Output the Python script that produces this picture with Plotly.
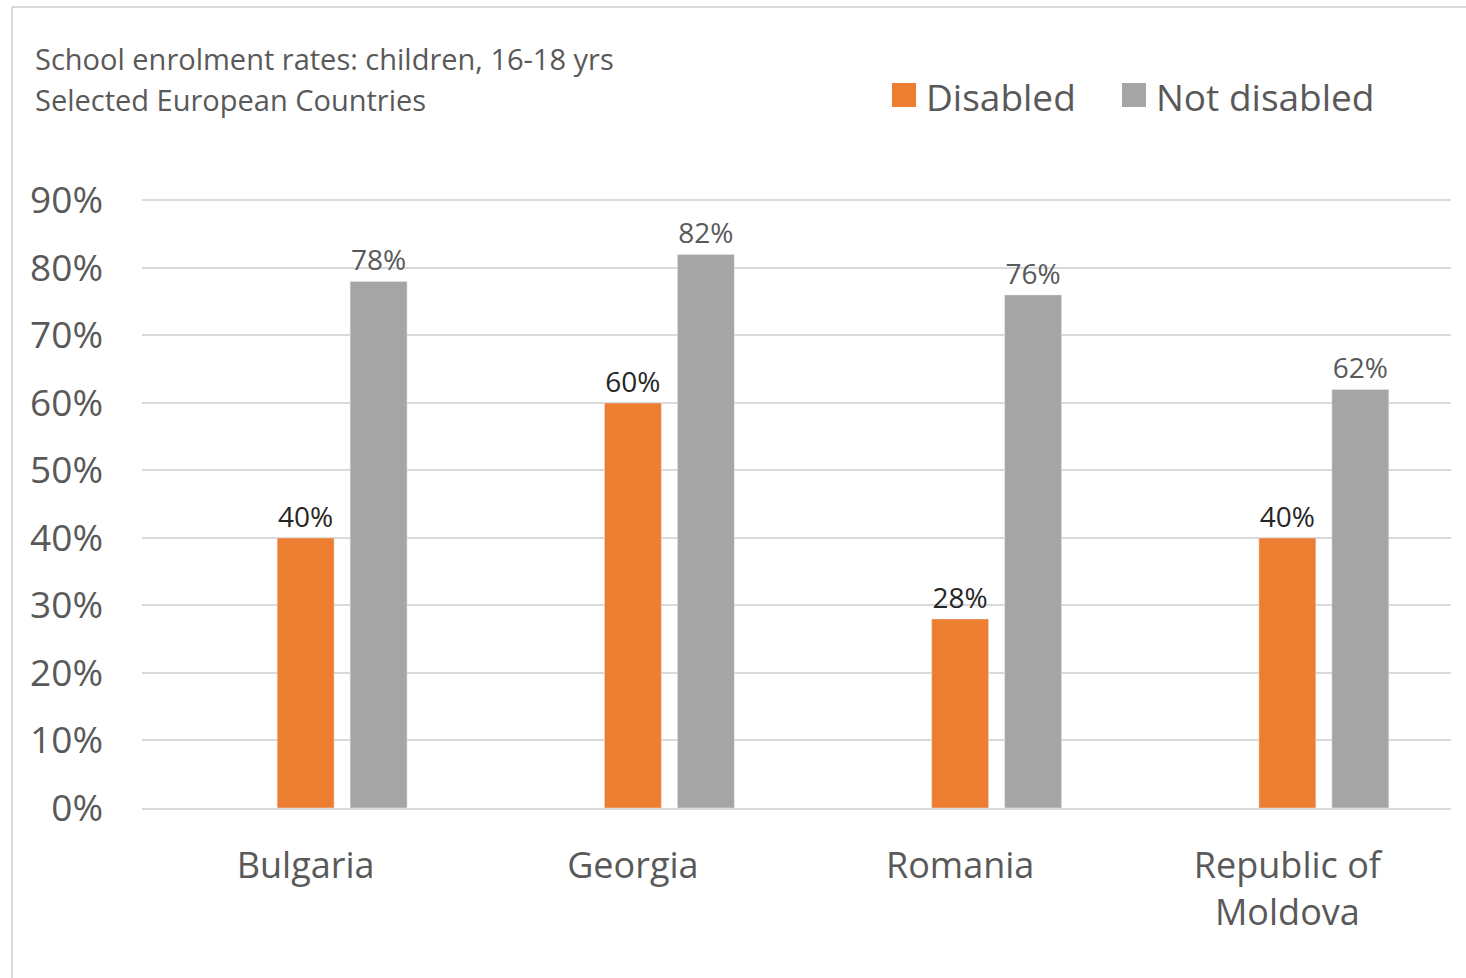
import plotly.graph_objects as go

countries = ["Bulgaria", "Georgia", "Romania", "Republic of<br>Moldova"]
disabled = [40, 60, 28, 40]
not_disabled = [78, 82, 76, 62]
tick_vals = [0, 10, 20, 30, 40, 50, 60, 70, 80, 90]
tick_text = [f"{v}%" for v in tick_vals]
series_names = ["Disabled", "Not disabled"]
series_colors = ["#ED7D31", "#A5A5A5"]

FONT = "Open Sans"
W, H = 1466, 978
L, R, T, B = 142, 15, 197, 170
pw, ph = W - L - R, H - T - B

fig = go.Figure()
fig.add_trace(go.Bar(
    name=series_names[0], x=countries, y=disabled,
    marker=dict(color=series_colors[0]),
    width=0.174, offset=-0.087,
    text=[f"{v}%" for v in disabled], textposition="outside",
    textfont=dict(family=FONT, size=28, color="#262626"),
    cliponaxis=False, showlegend=False,
))
fig.add_trace(go.Bar(
    name=series_names[1], x=countries, y=not_disabled,
    marker=dict(color=series_colors[1]),
    width=0.174, offset=0.136,
    text=[f"{v}%" for v in not_disabled], textposition="outside",
    textfont=dict(family=FONT, size=28, color="#595959"),
    cliponaxis=False, showlegend=False,
))

def px_x(x):
    return (x - L) / pw

def px_y(y):
    return (H - B - y) / ph

annotations = [
    dict(text="School enrolment rates: children, 16-18 yrs", xref="paper", yref="paper",
         x=px_x(33), y=px_y(59), xanchor="left", yanchor="middle", showarrow=False,
         font=dict(family=FONT, size=29, color="#595959")),
    dict(text="Selected European Countries", xref="paper", yref="paper",
         x=px_x(33), y=px_y(99), xanchor="left", yanchor="middle", showarrow=False,
         font=dict(family=FONT, size=29, color="#595959")),
]
shapes = [
    dict(type="line", xref="paper", yref="paper", x0=px_x(12), x1=px_x(1466),
         y0=px_y(7), y1=px_y(7), line=dict(color="#D9D9D9", width=2)),
    dict(type="line", xref="paper", yref="paper", x0=px_x(12), x1=px_x(12),
         y0=px_y(7), y1=px_y(978), line=dict(color="#D9D9D9", width=2)),
]
# legend (drawn manually so the swatches match the reference size)
legend_x = [892, 1122]
for name, color, lx in zip(series_names, series_colors, legend_x):
    shapes.append(dict(type="rect", xref="paper", yref="paper",
                       x0=px_x(lx), x1=px_x(lx + 24), y0=px_y(107), y1=px_y(83),
                       fillcolor=color, line=dict(width=0)))
    annotations.append(dict(text=name, xref="paper", yref="paper",
                            x=px_x(lx + 32), y=px_y(96), xanchor="left", yanchor="middle",
                            showarrow=False, font=dict(family=FONT, size=37, color="#595959")))

fig.update_layout(
    width=W, height=H,
    margin=dict(l=L, r=R, t=T, b=B),
    paper_bgcolor="white", plot_bgcolor="white",
    barmode="overlay",
    font=dict(family=FONT, color="#595959"),
    showlegend=False,
    xaxis=dict(
        showgrid=False, showline=True, linecolor="#D9D9D9", linewidth=2,
        ticks="", tickfont=dict(family=FONT, size=36, color="#595959"),
        ticklabelstandoff=25,
    ),
    yaxis=dict(
        range=[0, 90.5], tickvals=tick_vals, ticktext=tick_text,
        showgrid=True, gridcolor="#D9D9D9", gridwidth=2,
        zeroline=False, showline=False, ticks="",
        tickfont=dict(family=FONT, size=37, color="#595959"),
        ticklabelstandoff=38,
    ),
    annotations=annotations,
    shapes=shapes,
)

fig.write_html("out.html")
